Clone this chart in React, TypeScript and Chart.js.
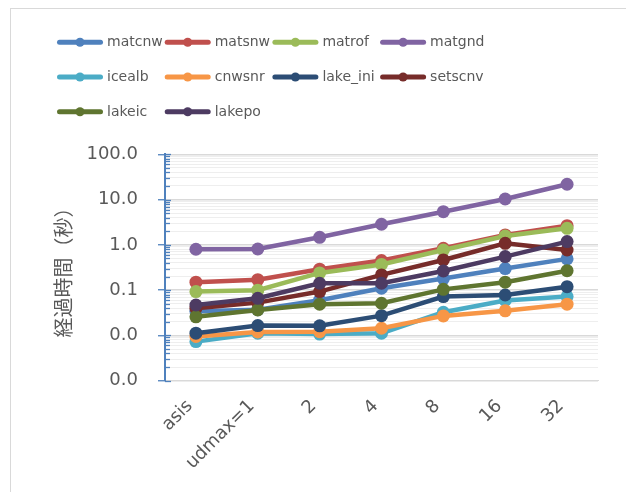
import React, { useEffect, useRef } from 'react';
import { Chart, registerables } from 'chart.js';

Chart.register(...registerables);

const categories = ['asis', 'udmax=1', '2', '4', '8', '16', '32'];

const seriesNames = ['matcnw', 'matsnw', 'matrof', 'matgnd', 'icealb', 'cnwsnr', 'lake_ini', 'setscnv', 'lakeic', 'lakepo'];
const seriesColors = ['#4F81BD', '#C0504D', '#9BBB59', '#8064A2', '#4BACC6', '#F79646', '#2C4D75', '#772C2A', '#5F7530', '#4D3B62'];

const matcnw = [0.034, 0.037, 0.06, 0.11, 0.18, 0.30, 0.49];
const matsnw = [0.15, 0.17, 0.29, 0.45, 0.84, 1.66, 2.65];
const matrof = [0.093, 0.10, 0.24, 0.37, 0.77, 1.57, 2.32];
const matgnd = [0.80, 0.81, 1.47, 2.85, 5.4, 10.3, 21.8];
const icealb = [0.0073, 0.0112, 0.0107, 0.0112, 0.0325, 0.059, 0.072];
const cnwsnr = [0.0095, 0.0119, 0.0121, 0.0144, 0.027, 0.035, 0.049];
const lake_ini = [0.0112, 0.0165, 0.0163, 0.0273, 0.072, 0.078, 0.119];
const setscnv = [0.040, 0.053, 0.093, 0.217, 0.464, 1.08, 0.77];
const lakeic = [0.0257, 0.0366, 0.049, 0.0514, 0.104, 0.15, 0.269];
const lakepo = [0.047, 0.066, 0.142, 0.142, 0.265, 0.55, 1.18];

const seriesValues = [matcnw, matsnw, matrof, matgnd, icealb, cnwsnr, lake_ini, setscnv, lakeic, lakepo];

const yMin = 0.001;
const yMax = 100;
const yTitle = '経過時間（秒）';

const FONT = '"DejaVu Sans", sans-serif';
const TEXT = '#595959';
const AXIS_BLUE = '#4F81BD';

const isDecade = (v: number) => Math.abs(Math.log10(v) - Math.round(Math.log10(v))) < 1e-6;

const framePlugin = {
  id: 'frame',
  beforeDraw(chart: any) {
    const ctx = chart.ctx;
    ctx.save();
    ctx.strokeStyle = '#d9d9d9';
    ctx.lineWidth = 1;
    ctx.strokeRect(10.5, 8.5, 1000, 1000);
    ctx.restore();
  },
};

const innerTicksPlugin = {
  id: 'innerTicks',
  afterDraw(chart: any) {
    const y = chart.scales.y;
    const ctx = chart.ctx;
    const x = chart.chartArea.left;
    ctx.save();
    ctx.strokeStyle = AXIS_BLUE;
    ctx.lineWidth = 1.3;
    y.ticks.forEach((t: any) => {
      const py = Math.round(y.getPixelForValue(t.value)) + 0.5;
      ctx.beginPath();
      ctx.moveTo(x, py);
      ctx.lineTo(x + (isDecade(t.value) ? 6 : 5), py);
      ctx.stroke();
    });
    ctx.restore();
  },
};

const legendPlugin = {
  id: 'excelLegend',
  afterDraw(chart: any) {
    const ctx = chart.ctx;
    ctx.save();
    const colW = 107.7;
    const rowH = 34.7;
    const x0 = 57;
    const y0 = 42.3;
    chart.data.datasets.forEach((ds: any, i: number) => {
      const col = i % 4;
      const row = Math.floor(i / 4);
      const x = x0 + col * colW;
      const y = y0 + row * rowH;
      ctx.strokeStyle = ds.borderColor;
      ctx.lineWidth = 5;
      ctx.lineCap = 'round';
      ctx.beginPath();
      ctx.moveTo(x + 2.5, y);
      ctx.lineTo(x + 43.5, y);
      ctx.stroke();
      ctx.fillStyle = ds.borderColor;
      ctx.beginPath();
      ctx.arc(x + 23, y, 4.5, 0, Math.PI * 2);
      ctx.fill();
      ctx.fillStyle = TEXT;
      ctx.font = `14px ${FONT}`;
      ctx.textBaseline = 'middle';
      ctx.textAlign = 'left';
      ctx.fillText(ds.label, x + 50, y + 0.5);
    });
    ctx.restore();
  },
};

export default function App() {
  const canvasRef = useRef<HTMLCanvasElement | null>(null);

  useEffect(() => {
    if (!canvasRef.current) return;
    const chart = new Chart(canvasRef.current, {
      type: 'line',
      data: {
        labels: categories,
        datasets: seriesNames.map((name, i) => ({
          label: name,
          data: seriesValues[i],
          borderColor: seriesColors[i],
          backgroundColor: seriesColors[i],
          pointBackgroundColor: seriesColors[i],
          pointBorderColor: seriesColors[i],
          borderWidth: 4.5,
          pointRadius: 6.5,
          pointBorderWidth: 0,
          pointHoverRadius: 6.5,
          tension: 0,
          fill: false,
          order: seriesNames.length - 1 - i,
        })),
      },
      options: {
        responsive: false,
        animation: false,
        layout: { padding: { left: 51, right: 28, top: 154.3, bottom: 0 } },
        plugins: {
          legend: { display: false },
          tooltip: { enabled: false },
        },
        scales: {
          x: {
            offset: true,
            grid: { display: false, drawTicks: false },
            border: { display: true, color: '#d9d9d9', width: 1 },
            ticks: {
              minRotation: 45,
              maxRotation: 45,
              autoSkip: false,
              padding: 15,
              labelOffset: -6,
              font: { family: FONT, size: 18 },
              color: TEXT,
            },
            afterFit: (s: any) => {
              s.height = 111.3;
            },
          },
          y: {
            type: 'logarithmic',
            min: yMin,
            max: yMax,
            afterBuildTicks: (scale: any) => {
              const t: any[] = [];
              const lo = Math.round(Math.log10(yMin));
              const hi = Math.round(Math.log10(yMax));
              for (let e = lo; e <= hi; e++) {
                for (let k = 1; k <= 9; k++) {
                  const v = +(k * Math.pow(10, e)).toPrecision(6);
                  if (v <= yMax * 1.0001) t.push({ value: v, major: k === 1 });
                }
              }
              scale.ticks = t;
            },
            afterFit: (s: any) => {
              s.width = 114;
            },
            ticks: {
              autoSkip: false,
              padding: 20,
              font: { family: FONT, size: 18 },
              color: TEXT,
              callback: (v: any) => (isDecade(Number(v)) ? Number(v).toFixed(1) : ''),
            },
            grid: {
              color: (c: any) => (c.tick && isDecade(c.tick.value) ? '#d9d9d9' : '#eeeeee'),
              lineWidth: (c: any) => (c.tick && isDecade(c.tick.value) ? 1.5 : 1),
              drawTicks: true,
              tickLength: 7,
              tickWidth: 1.3,
              tickColor: (c: any) => (c.tick && isDecade(c.tick.value) ? AXIS_BLUE : 'rgba(0,0,0,0)'),
            },
            border: { display: true, color: AXIS_BLUE, width: 2 },
            title: {
              display: true,
              text: yTitle,
              font: { family: '"Noto Sans CJK JP", sans-serif', size: 20 },
              color: TEXT,
              padding: { top: 0, bottom: 0 },
            },
          },
        },
      },
      plugins: [framePlugin, innerTicksPlugin, legendPlugin],
    } as any);
    return () => chart.destroy();
  }, []);

  return (
    <div style={{ position: 'fixed', left: 0, top: 0, width: 626, height: 492, background: '#fff', overflow: 'hidden' }}>
      <canvas ref={canvasRef} width={626} height={492} style={{ display: 'block' }} />
    </div>
  );
}
